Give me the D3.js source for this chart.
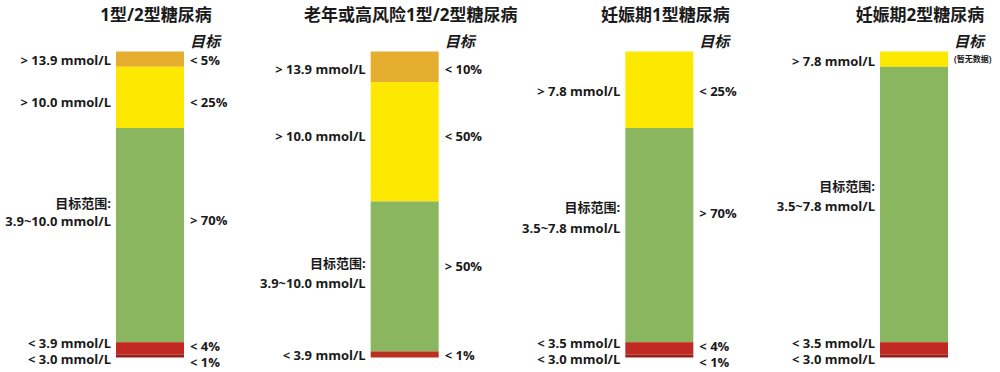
<!DOCTYPE html>
<html>
<head>
<meta charset="utf-8">
<script src="https://cdn.jsdelivr.net/npm/d3@7"></script>
<style>
  body { margin: 0; background: #fff; }
  svg { display: block; }
  text { font-family: "Open Sans", "Noto Sans CJK SC", sans-serif; font-weight: 700; fill: #1a1a1a; }
</style>
</head>
<body>
<div id="grafik"></div>
<script>
// panels
const panels = ["1型/2型糖尿病", "老年或高风险1型/2型糖尿病", "妊娠期1型糖尿病", "妊娠期2型糖尿病"];
// share of time per glucose level, top -> bottom (%)
const levels = ["veryHigh", "high", "target", "low", "veryLow"];
const share1 = [5, 20, 70, 4, 1];
const share2 = [10, 39, 49, 2, 0];
const share3 = [0, 25, 70, 4, 1];
const share4 = [0, 5, 90, 4, 1];
const shares = [share1, share2, share3, share4];

// left labels (text, position along bar in %)
const left1 = [["> 13.9 mmol/L", 3], ["> 10.0 mmol/L", 16.7], ["目标范围:", 49.5], ["3.9~10.0 mmol/L", 55.7], ["< 3.9 mmol/L", 95.5], ["< 3.0 mmol/L", 100.6]];
const left2 = [["> 13.9 mmol/L", 5.9], ["> 10.0 mmol/L", 27.9], ["目标范围:", 69.2], ["3.9~10.0 mmol/L", 75.7], ["< 3.9 mmol/L", 99.3]];
const left3 = [["> 7.8 mmol/L", 13], ["目标范围:", 51], ["3.5~7.8 mmol/L", 57.7], ["< 3.5 mmol/L", 95.5], ["< 3.0 mmol/L", 100.6]];
const left4 = [["> 7.8 mmol/L", 3.3], ["目标范围:", 44], ["3.5~7.8 mmol/L", 50.5], ["< 3.5 mmol/L", 95.5], ["< 3.0 mmol/L", 100.6]];
// right labels (targets)
const right1 = [["< 5%", 3], ["< 25%", 16.7], ["> 70%", 55.3], ["< 4%", 96.4], ["< 1%", 101.6]];
const right2 = [["< 10%", 5.9], ["< 50%", 27.9], ["> 50%", 70.2], ["< 1%", 99.3]];
const right3 = [["< 25%", 13], ["> 70%", 52.8], ["< 4%", 96.4], ["< 1%", 101.6]];
const right4 = [["(暂无数据)", 2.6, "small"]];
const lefts = [left1, left2, left3, left4];
const rights = [right1, right2, right3, right4];

const color = d3.scaleOrdinal()
  .domain(levels)
  .range(["#e6ae2e", "#fce800", "#8ab660", "#c02a22", "#97201a"]);

const W = 1000, H = 372;
const barW = 68;

const svg = d3.select("#grafik").append("svg")
  .attr("width", W).attr("height", H);

const x = d3.scalePoint().domain(panels).range([150, 914]);
const y = d3.scaleLinear().domain([0, 100]).range([51.5, 357.5]);

panels.forEach((p, i) => {
  const cx = x(p);
  const g = svg.append("g");

  // title
  g.append("text")
    .attr("x", cx + 6).attr("y", 15)
    .attr("dy", "0.35em")
    .attr("text-anchor", "middle")
    .style("font-size", "17px")
    .text(p);

  // stacked segments
  let acc = 0;
  const segs = levels.map((lv, k) => {
    const s = { level: lv, y0: acc, y1: acc + shares[i][k] };
    acc += shares[i][k];
    return s;
  }).filter(s => s.y1 > s.y0);

  // panel 2 only has one red block in the low colour
  g.selectAll("rect")
    .data(segs)
    .join("rect")
    .attr("x", cx - barW / 2)
    .attr("width", barW)
    .attr("y", d => y(d.y0))
    .attr("height", d => y(d.y1) - y(d.y0))
    .attr("fill", d => i === 1 && d.level === "low" ? "#b8301f" : color(d.level));

  // target header
  g.append("text")
    .attr("x", cx + barW / 2 + 6).attr("y", 42)
    .attr("dy", "0.35em")
    .style("font-size", "15px")
    .style("font-style", "italic")
    .text("目标");

  g.selectAll(".lbl-left")
    .data(lefts[i])
    .join("text")
    .attr("class", "lbl-left")
    .attr("x", cx - barW / 2 - 5)
    .attr("y", d => y(d[1]))
    .attr("dy", "0.35em")
    .attr("text-anchor", "end")
    .style("font-size", "13px")
    .text(d => d[0]);

  g.selectAll(".lbl-right")
    .data(rights[i])
    .join("text")
    .attr("class", "lbl-right")
    .attr("x", cx + barW / 2 + 6)
    .attr("y", d => y(d[1]))
    .attr("dy", "0.35em")
    .style("font-size", d => d[2] ? "8px" : "13px")
    .text(d => d[0]);
});
</script>
</body>
</html>
